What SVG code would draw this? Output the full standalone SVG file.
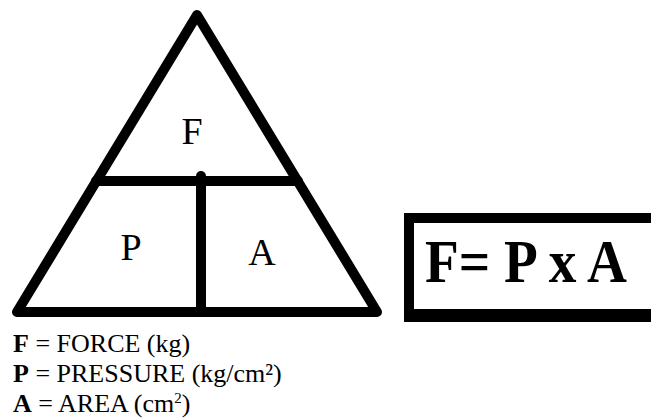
<svg xmlns="http://www.w3.org/2000/svg" width="651" height="418" viewBox="0 0 651 418">
<style>
.ln{fill:none;stroke:#000;stroke-width:10;stroke-linejoin:round;stroke-linecap:round}
.serif{font-family:"Liberation Serif","Times New Roman",serif}
.lbl{font-size:38px;fill:#000;text-anchor:middle}
.key{font-size:26px;fill:#000}
.b{font-weight:bold}
</style>
<rect width="651" height="418" fill="#fff"/>
<g id="connectors">
<path class="ln" d="M197,15 L17,312 L377,312 Z"/>
<path class="ln" d="M96,181 L298,181" stroke-linecap="butt"/>
<path class="ln" d="M201,176 L201,312" stroke-linecap="butt"/>
</g>
<g id="node-F"><text class="lbl serif" x="192" y="144">F</text></g>
<g id="node-P"><text class="lbl serif" x="131" y="260">P</text></g>
<g id="node-A"><text class="lbl serif" x="262" y="265">A</text></g>
<g id="formula">
<rect x="404" y="213" width="260" height="109" fill="#000"/>
<rect x="414" y="223" width="250" height="86" fill="#fff"/>
<text class="serif" x="425" y="282" font-weight="bold" font-size="61" textLength="202" lengthAdjust="spacingAndGlyphs">F= P x A</text>
</g>
<g id="legend" class="serif">
<text class="key" x="13" y="352"><tspan class="b">F</tspan> = FORCE (kg)</text>
<text class="key" x="13" y="382"><tspan class="b">P</tspan> = PRESSURE (kg/cm²)</text>
<text class="key" x="13" y="412"><tspan class="b">A</tspan> = AREA (cm<tspan font-size="15" dy="-9">2</tspan><tspan dy="9">)</tspan></text>
</g>
</svg>
